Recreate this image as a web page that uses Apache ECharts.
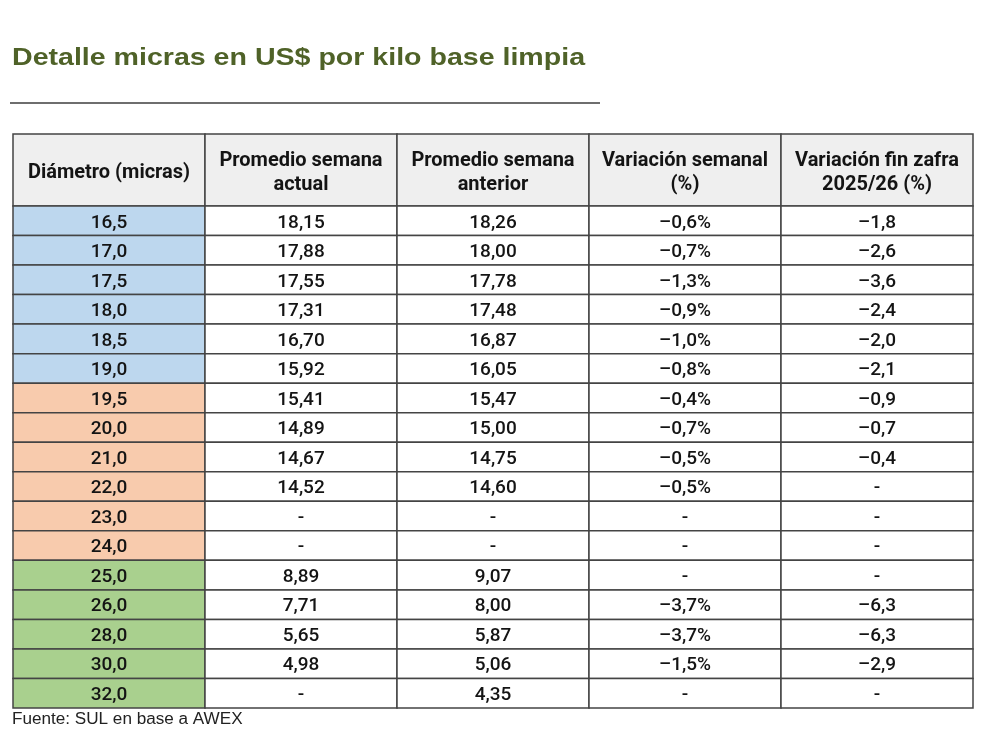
<!DOCTYPE html>
<html>
<head>
<meta charset="utf-8">
<script src="https://cdn.jsdelivr.net/npm/echarts@6/dist/echarts.min.js"></script>
<style>
  html, body { margin: 0; padding: 0; background: #fff; }
  #main { width: 981px; height: 746px; }
</style>
</head>
<body>
<div id="main"></div>
<script>
// Table content
const headers = ['Diámetro (micras)', 'Promedio semana\nactual', 'Promedio semana\nanterior', 'Variación semanal\n(%)', 'Variación fin zafra\n2025/26 (%)']
const micras = ['16,5', '17,0', '17,5', '18,0', '18,5', '19,0', '19,5', '20,0', '21,0', '22,0', '23,0', '24,0', '25,0', '26,0', '28,0', '30,0', '32,0']
const actual = ['18,15', '17,88', '17,55', '17,31', '16,70', '15,92', '15,41', '14,89', '14,67', '14,52', '-', '-', '8,89', '7,71', '5,65', '4,98', '-']
const anterior = ['18,26', '18,00', '17,78', '17,48', '16,87', '16,05', '15,47', '15,00', '14,75', '14,60', '-', '-', '9,07', '8,00', '5,87', '5,06', '4,35']
const varSemanal = ['–0,6%', '–0,7%', '–1,3%', '–0,9%', '–1,0%', '–0,8%', '–0,4%', '–0,7%', '–0,5%', '–0,5%', '-', '-', '-', '–3,7%', '–3,7%', '–1,5%', '-']
const varZafra = ['–1,8', '–2,6', '–3,6', '–2,4', '–2,0', '–2,1', '–0,9', '–0,7', '–0,4', '-', '-', '-', '-', '–6,3', '–6,3', '–2,9', '-']
const grupo = ['fina', 'fina', 'fina', 'fina', 'fina', 'fina', 'media', 'media', 'media', 'media', 'media', 'media', 'gruesa', 'gruesa', 'gruesa', 'gruesa', 'gruesa']

const GROUP_COLORS = { fina: '#bdd7ee', media: '#f8cbad', gruesa: '#a9d08e' }
const HEADER_H = 72 / 29.53 // header height in row units
const CELL_FONT = 'Roboto, "DejaVu Sans", sans-serif'

const columns = [micras, actual, anterior, varSemanal, varZafra]
const cells = []
headers.forEach((h, c) => cells.push([c, -1, h]))
columns.forEach((col, c) => {
  col.forEach((txt, r) => cells.push([c, r, txt]))
})

const renderCell = function (params, api) {
  const col = api.value(0)
  const row = api.value(1)
  const text = cells[params.dataIndex][2]
  const y0 = row < 0 ? 0 : HEADER_H + row
  const y1 = row < 0 ? HEADER_H : HEADER_H + row + 1
  const p0 = api.coord([col, y0])
  const p1 = api.coord([col + 1, y1])

  let fill = '#ffffff'
  if (row < 0) fill = '#efefef'
  else if (col === 0) fill = GROUP_COLORS[grupo[row]]

  return {
    type: 'rect',
    shape: { x: p0[0], y: p0[1], width: p1[0] - p0[0], height: p1[1] - p0[1] },
    style: { fill: fill, stroke: '#444', lineWidth: 1.5 },
    textContent: {
      style: {
        text: text,
        fill: '#141414',
        fontFamily: CELL_FONT,
        fontSize: row < 0 ? 20 : 19,
        fontWeight: row < 0 ? 'bold' : 500,
        lineHeight: 24,
        align: 'center',
        verticalAlign: 'middle',
      },
    },
    textConfig: { position: 'inside', offset: [0, row < 0 ? 3 : 2] },
  }
}

const option = {
  animation: false,
  graphic: [
    {
      type: 'text',
      x: 12,
      y: 58,
      scaleX: 1.19,
      style: {
        text: 'Detalle micras en US$ por kilo base limpia',
        fill: '#4f6228',
        font: 'bold 24px "Liberation Sans", Arial, sans-serif',
        verticalAlign: 'middle',
      },
    },
    {
      type: 'line',
      shape: { x1: 10, y1: 103, x2: 600, y2: 103 },
      style: { stroke: '#6e6e6e', lineWidth: 2 },
    },
    {
      type: 'text',
      x: 12,
      y: 720,
      scaleX: 1.07,
      style: {
        text: 'Fuente: SUL en base a AWEX',
        fill: '#222',
        font: '16px "Liberation Sans", Arial, sans-serif',
        verticalAlign: 'middle',
      },
    },
  ],
  grid: { left: 13, right: 8, top: 134, bottom: 38 },
  xAxis: { type: 'value', min: 0, max: 5, show: false },
  yAxis: { type: 'value', min: 0, max: 17 + HEADER_H, inverse: true, show: false },
  series: [
    {
      type: 'custom',
      renderItem: renderCell,
      data: cells.map((c) => [c[0], c[1]]),
      clip: false,
    },
  ],
}

const c = echarts.init(document.getElementById('main'))
c.setOption(option)
</script>
</body>
</html>
